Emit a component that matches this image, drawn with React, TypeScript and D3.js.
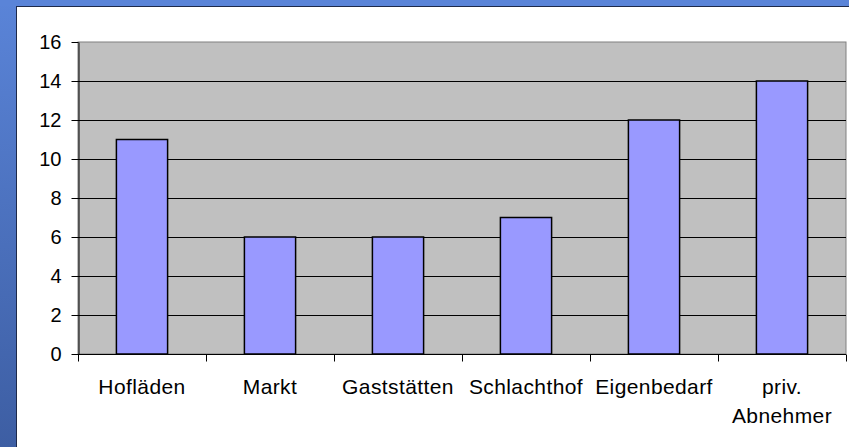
import * as d3 from "d3";
import React, { useRef, useEffect } from "react";

const categories = ["Hofläden", "Markt", "Gaststätten", "Schlachthof", "Eigenbedarf", "priv. Abnehmer"];
const values = [11, 6, 6, 7, 12, 14];
const yTicks = [0, 2, 4, 6, 8, 10, 12, 14, 16];

const W = 849,
  H = 447;
const plot = { left: 78, right: 846, top: 42, bottom: 354 };
const font = "Liberation Sans, Arial, sans-serif";

function BarChart() {
  const ref = useRef<SVGSVGElement>(null);

  useEffect(() => {
    const svg = d3.select(ref.current);
    svg.selectAll("*").remove();

    // background frame
    const defs = svg.append("defs");
    const grad = defs
      .append("linearGradient")
      .attr("id", "sideGrad")
      .attr("x1", 0)
      .attr("y1", 0)
      .attr("x2", 0)
      .attr("y2", 1);
    grad.append("stop").attr("offset", "0%").attr("stop-color", "#5a84d8");
    grad.append("stop").attr("offset", "100%").attr("stop-color", "#3d5ea3");

    svg.append("rect").attr("width", W).attr("height", H).attr("fill", "url(#sideGrad)");
    svg.append("rect").attr("x", 0).attr("y", 0).attr("width", W).attr("height", 6).attr("fill", "#5a84d8");
    svg.append("rect").attr("x", 16).attr("y", 6).attr("width", W).attr("height", 1).attr("fill", "#1e2a4a");
    svg.append("rect").attr("x", 16).attr("y", 6).attr("width", 1).attr("height", H).attr("fill", "#1e2a4a");
    svg.append("rect").attr("x", 17).attr("y", 7).attr("width", W - 17).attr("height", H - 7).attr("fill", "#fff");

    const x = d3.scaleBand().domain(categories).range([plot.left, plot.right]).paddingInner(0).paddingOuter(0);
    const y = d3.scaleLinear().domain([0, 16]).range([plot.bottom, plot.top]);

    // plot area
    svg
      .append("rect")
      .attr("x", plot.left)
      .attr("y", plot.top)
      .attr("width", plot.right - plot.left)
      .attr("height", plot.bottom - plot.top)
      .attr("fill", "#c0c0c0")
      .attr("stroke", "#808080")
      .attr("stroke-width", 1);

    // gridlines
    svg
      .selectAll(".grid")
      .data(yTicks.filter((d) => d > 0 && d < 16))
      .enter()
      .append("line")
      .attr("x1", plot.left)
      .attr("x2", plot.right)
      .attr("y1", (d) => Math.round(y(d)) + 0.5)
      .attr("y2", (d) => Math.round(y(d)) + 0.5)
      .attr("stroke", "#000")
      .attr("stroke-width", 1);

    // bars
    const bw = x.bandwidth() / 2.5;
    svg
      .selectAll(".bar")
      .data(values)
      .enter()
      .append("rect")
      .attr("x", (d, i) => x(categories[i])! + (x.bandwidth() - bw) / 2)
      .attr("y", (d) => y(d))
      .attr("width", bw)
      .attr("height", (d) => y(0) - y(d))
      .attr("fill", "#9999ff")
      .attr("stroke", "#000")
      .attr("stroke-width", 1.5);

    // y axis
    const yAxis = svg
      .append("g")
      .attr("transform", `translate(${plot.left + 0.5},0)`)
      .call(d3.axisLeft(y).tickValues(yTicks).tickSize(7).tickPadding(10).tickSizeOuter(0));
    yAxis.select(".domain").attr("stroke", "#000");
    yAxis.selectAll("text").attr("font-family", font).attr("font-size", 20).attr("fill", "#000");

    // x axis
    const xAxis = svg.append("g").attr("transform", `translate(0,${plot.bottom + 0.5})`);
    xAxis.append("line").attr("x1", plot.left).attr("x2", plot.right).attr("stroke", "#000");
    xAxis
      .selectAll(".xt")
      .data(d3.range(categories.length + 1))
      .enter()
      .append("line")
      .attr("x1", (i) => Math.round(plot.left + i * x.step()) + 0.5)
      .attr("x2", (i) => Math.round(plot.left + i * x.step()) + 0.5)
      .attr("y1", 0)
      .attr("y2", 7)
      .attr("stroke", "#000");

    const labels = xAxis
      .selectAll(".xl")
      .data(categories)
      .enter()
      .append("text")
      .attr("text-anchor", "middle")
      .attr("font-family", font)
      .attr("font-size", 21)
      .attr("letter-spacing", 0.4)
      .attr("fill", "#000");
    labels
      .selectAll("tspan")
      .data((d) => d.split(" "))
      .enter()
      .append("tspan")
      .attr("x", function () {
        const c = d3.select((this as any).parentNode).datum() as string;
        return x(c)! + x.bandwidth() / 2;
      })
      .attr("y", (d, i) => 39 + i * 29)
      .text((d) => d);
  }, []);

  return <svg ref={ref} width={W} height={H} style={{ position: "absolute", left: 0, top: 0, display: "block" }} />;
}

export default function App() {
  return <BarChart />;
}
